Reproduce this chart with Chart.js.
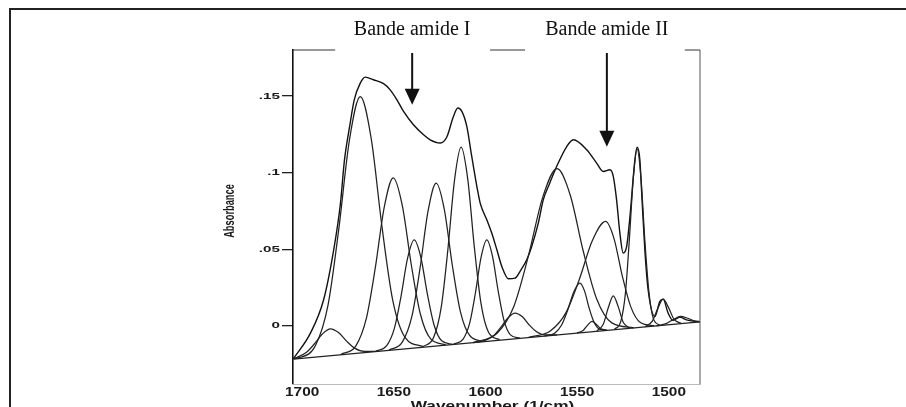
<!DOCTYPE html>
<html>
<head>
<meta charset="utf-8">
<script src="https://cdn.jsdelivr.net/npm/chart.js@4.4.1/dist/chart.umd.min.js"></script>
<style>
  html, body { margin: 0; padding: 0; background: #fff; }
  canvas { display: block; }
</style>
</head>
<body>
<canvas id="spectrum" width="906" height="407"></canvas>
<script>
var xTicks = [1700, 1650, 1600, 1550, 1500];
var xTickLabels = ['1700', '1650', '1600', '1550', '1500'];
var yTicks = [0, 0.05, 0.1, 0.15];
var yTickLabels = ['0', '.05', '.1', '.15'];
var xTitle = 'Wavenumber (1/cm)';
var yTitle = 'Absorbance';
var notes = ['Bande amide I', 'Bande amide II'];
var noteAt = [1640, 1533.8];      // wavenumber under each arrow
var noteTip = [0.1443, 0.1168];   // absorbance at the arrow tip

// [wavenumber, absorbance]
var envelope = [[1704.8,-0.0215],[1695.5,-0.0048],[1688.3,0.0170],[1682.8,0.0496],[1679.2,0.0790],[1676.9,0.1084],[1674.1,0.1301],[1671.6,0.1475],[1668.3,0.1584],[1665.6,0.1623],[1661.1,0.1606],[1655.6,0.1580],[1652.0,0.1540],[1648.3,0.1475],[1644.7,0.1399],[1639.3,0.1312],[1633.8,0.1247],[1630.2,0.1214],[1624.7,0.1193],[1621.1,0.1232],[1617.5,0.1366],[1615.1,0.1421],[1612.9,0.1399],[1610.2,0.1301],[1607.5,0.1105],[1604.7,0.0909],[1602.9,0.0801],[1599.3,0.0692],[1596.6,0.0605],[1593.8,0.0496],[1591.1,0.0387],[1587.5,0.0307],[1583.9,0.0311],[1581.2,0.0354],[1577.5,0.0431],[1574.8,0.0518],[1571.2,0.0670],[1568.5,0.0822],[1565.1,0.0927],[1561.2,0.1040],[1555.7,0.1170],[1552.1,0.1214],[1544.8,0.1149],[1539.4,0.1062],[1535.8,0.1007],[1532.1,0.1018],[1530.3,0.0975],[1528.5,0.0822],[1526.7,0.0605],[1524.9,0.0475],[1523.0,0.0518],[1521.2,0.0713],[1518.5,0.1084],[1517.3,0.1165],[1515.8,0.1084],[1514.9,0.0888],[1513.1,0.0496],[1511.3,0.0235],[1507.6,0.0061],[1504.9,0.0159],[1503.1,0.0174],[1500.4,0.0083],[1497.7,0.0035],[1494.0,0.0057],[1490.4,0.0039],[1484.9,0.0028],[1483,0.0026]];
var baseline = [[1704.8,-0.0217],[1483,0.0025]];

// fitted component bands, named by their centre
var band1685 = [[1704.8,-0.0213],[1703.0,-0.0207],[1697.8,-0.0175],[1693.4,-0.0119],[1689.0,-0.0054],[1684.6,-0.0020],[1680.2,-0.0044],[1675.8,-0.0100],[1671.4,-0.0146],[1666.2,-0.0167],[1658.9,-0.0167]];
var band1668 = [[1704.8,-0.0215],[1702.6,-0.0211],[1692.8,-0.0130],[1685.9,0.0135],[1680.1,0.0624],[1674.2,0.1213],[1668.3,0.1495],[1662.4,0.1226],[1656.5,0.0650],[1650.7,0.0173],[1643.8,-0.0077],[1634.0,-0.0136]];
var band1650 = [[1678.9,-0.0187],[1670.7,-0.0131],[1665.0,0.0048],[1660.1,0.0379],[1655.2,0.0776],[1650.3,0.0966],[1645.4,0.0786],[1640.5,0.0400],[1635.6,0.0080],[1629.9,-0.0086],[1621.7,-0.0124]];
var band1639 = [[1659.9,-0.0166],[1653.9,-0.0130],[1649.7,-0.0017],[1646.1,0.0191],[1642.5,0.0441],[1638.9,0.0561],[1635.3,0.0449],[1631.7,0.0207],[1628.1,0.0007],[1623.9,-0.0098],[1617.9,-0.0121]];
var band1627 = [[1652.6,-0.0158],[1645.3,-0.0105],[1640.1,0.0064],[1635.7,0.0376],[1631.3,0.0751],[1626.9,0.0931],[1622.5,0.0761],[1618.1,0.0395],[1613.7,0.0093],[1608.5,-0.0065],[1601.2,-0.0102]];
var band1613 = [[1634.3,-0.0137],[1628.3,-0.0077],[1624.1,0.0125],[1620.5,0.0500],[1616.9,0.0951],[1613.3,0.1166],[1609.7,0.0959],[1606.1,0.0515],[1602.5,0.0149],[1598.3,-0.0044],[1592.3,-0.0091]];
var band1599 = [[1617.4,-0.0120],[1612.2,-0.0087],[1608.6,0.0019],[1605.5,0.0214],[1602.4,0.0448],[1599.3,0.0561],[1596.2,0.0455],[1593.1,0.0228],[1590.0,0.0039],[1586.4,-0.0059],[1581.2,-0.0081]];
var band1584 = [[1606.8,-0.0110],[1600.3,-0.0095],[1595.7,-0.0065],[1591.8,-0.0012],[1587.8,0.0051],[1583.9,0.0083],[1580.0,0.0060],[1576.1,0.0005],[1572.1,-0.0039],[1567.6,-0.0060],[1561.0,-0.0060]];
var band1561 = [[1606.8,-0.0109],[1593.7,-0.0049],[1584.5,0.0128],[1576.7,0.0451],[1568.8,0.0838],[1561.0,0.1025],[1553.8,0.0854],[1546.6,0.0483],[1539.4,0.0177],[1531.1,0.0019],[1519.1,-0.0013]];
var band1549 = [[1567.8,-0.0067],[1562.3,-0.0048],[1558.4,0.0007],[1555.1,0.0105],[1551.8,0.0222],[1548.5,0.0279],[1546.0,0.0228],[1543.5,0.0117],[1540.9,0.0026],[1538.0,-0.0021],[1533.8,-0.0030]];
var band1542 = [[1550.1,-0.0047],[1546.8,-0.0031],[1544.4,0.0003],[1541.9,0.0028],[1539.5,0.0008],[1537.0,-0.0020],[1533.7,-0.0029]];
var band1535 = [[1576.5,-0.0075],[1564.5,-0.0032],[1556.1,0.0086],[1548.9,0.0300],[1541.7,0.0556],[1534.5,0.0681],[1529.9,0.0569],[1525.4,0.0326],[1520.8,0.0125],[1515.5,0.0021],[1507.9,0.0000]];
var band1530 = [[1539.3,-0.0034],[1535.7,0.0011],[1533.0,0.0119],[1530.3,0.0196],[1527.6,0.0125],[1524.9,0.0023],[1521.3,-0.0015]];
var band1517 = [[1529.7,-0.0024],[1526.2,0.0029],[1523.7,0.0211],[1521.6,0.0551],[1519.4,0.0960],[1517.3,0.1155],[1515.2,0.0965],[1513.1,0.0560],[1510.9,0.0225],[1508.5,0.0048],[1504.9,0.0003]];
var band1503 = [[1512.9,-0.0006],[1509.0,0.0030],[1506.0,0.0114],[1503.1,0.0174],[1500.2,0.0120],[1497.2,0.0043],[1493.3,0.0016]];
var band1494 = [[1506.7,-0.0001],[1501.5,0.0014],[1497.5,0.0041],[1493.6,0.0061],[1489.7,0.0049],[1485.8,0.0031],[1483,0.0027]];

var bands = [band1685, band1668, band1650, band1639, band1627, band1613, band1599, band1584,
             band1561, band1549, band1542, band1535, band1530, band1517, band1503, band1494];

function pts(arr) {
    return arr.map(function(p) { return {x: p[0], y: p[1]}; });
}

var datasets = bands.map(function(b) {
    return {
        data: pts(b),
        borderColor: '#222',
        borderWidth: 1.25,
        pointRadius: 0,
        fill: false,
        cubicInterpolationMode: 'monotone'
    };
});
datasets.push({
    data: pts(baseline),
    borderColor: '#222',
    borderWidth: 1.25,
    pointRadius: 0,
    fill: false,
    tension: 0
});
datasets.push({
    data: pts(envelope),
    borderColor: '#111',
    borderWidth: 1.4,
    pointRadius: 0,
    fill: false,
    cubicInterpolationMode: 'monotone'
});

// squeezed / stretched text, like the scanned plot lettering
function drawText(ctx, text, px, py, sx, align) {
    ctx.save();
    ctx.translate(px, py);
    ctx.scale(sx, 1);
    ctx.textAlign = align;
    ctx.fillText(text, 0, 0);
    ctx.restore();
}

var decor = {
    id: 'decor',
    afterDraw: function(chart) {
        var ctx = chart.ctx, area = chart.chartArea;
        var x = chart.scales.x, y = chart.scales.y;
        ctx.save();

        // page border
        ctx.strokeStyle = '#222';
        ctx.lineWidth = 2;
        ctx.beginPath();
        ctx.moveTo(10, 407); ctx.lineTo(10, 9); ctx.lineTo(906, 9);
        ctx.stroke();

        // right edge and what is left of the top edge of the frame
        ctx.lineWidth = 1;
        ctx.strokeStyle = '#555';
        ctx.beginPath();
        ctx.moveTo(area.right, area.top); ctx.lineTo(area.right, area.bottom);
        ctx.stroke();
        ctx.strokeStyle = '#333';
        [[1705, 1682], [1597.5, 1578.4], [1491.3, 1483]].forEach(function(s) {
            ctx.beginPath();
            ctx.moveTo(x.getPixelForValue(s[0]), area.top);
            ctx.lineTo(x.getPixelForValue(s[1]), area.top);
            ctx.stroke();
        });

        ctx.fillStyle = '#1a1a1a';
        ctx.textBaseline = 'middle';

        // tick labels
        ctx.font = 'bold 12px "Liberation Sans", Arial, sans-serif';
        xTicks.forEach(function(v, i) {
            drawText(ctx, xTickLabels[i], x.getPixelForValue(v), area.bottom + 9, 1.28, 'center');
        });
        ctx.font = 'bold 9.5px "Liberation Sans", Arial, sans-serif';
        yTicks.forEach(function(v, i) {
            drawText(ctx, yTickLabels[i], area.left - 13, y.getPixelForValue(v), 1.6, 'right');
        });

        // axis titles
        ctx.font = 'bold 13px "Liberation Sans", Arial, sans-serif';
        ctx.textBaseline = 'alphabetic';
        drawText(ctx, xTitle, (area.left + area.right) / 2 - 4, 410, 1.33, 'center');

        ctx.save();
        ctx.translate(230, 211);
        ctx.rotate(-Math.PI / 2);
        ctx.scale(0.62, 1);
        ctx.font = 'bold 15px "Liberation Sans", Arial, sans-serif';
        ctx.textAlign = 'center';
        ctx.textBaseline = 'middle';
        ctx.fillText(yTitle, 0, 0);
        ctx.restore();

        // band labels with arrows
        ctx.fillStyle = '#111';
        ctx.font = '20px "Liberation Serif", "Times New Roman", serif';
        ctx.textAlign = 'center';
        ctx.textBaseline = 'middle';
        notes.forEach(function(t, i) {
            var px = x.getPixelForValue(noteAt[i]);
            var tip = y.getPixelForValue(noteTip[i]);
            ctx.fillText(t, px, area.top - 20);
            ctx.strokeStyle = '#111';
            ctx.lineWidth = 2;
            ctx.beginPath();
            ctx.moveTo(px, area.top + 3);
            ctx.lineTo(px, tip - 12);
            ctx.stroke();
            ctx.beginPath();
            ctx.moveTo(px - 7.5, tip - 16);
            ctx.lineTo(px + 7.5, tip - 16);
            ctx.lineTo(px, tip);
            ctx.closePath();
            ctx.fill();
        });

        ctx.restore();
    }
};

new Chart(document.getElementById('spectrum'), {
    type: 'line',
    data: { datasets: datasets },
    options: {
        responsive: false,
        animation: false,
        layout: { padding: { top: 50, right: 206, bottom: 0, left: 0 } },
        plugins: {
            legend: { display: false },
            tooltip: { enabled: false }
        },
        scales: {
            x: {
                type: 'linear',
                reverse: true,
                min: 1483,
                max: 1705,
                afterBuildTicks: function(s) { s.ticks = xTicks.map(function(v) { return {value: v}; }); },
                afterFit: function(s) { s.height = 23; },
                ticks: { display: false },
                grid: { display: false },
                border: { display: true, color: '#bbb', width: 1 }
            },
            y: {
                type: 'linear',
                min: -0.038,
                max: 0.18,
                afterBuildTicks: function(s) { s.ticks = yTicks.map(function(v) { return {value: v}; }); },
                afterFit: function(s) { s.width = 293; },
                ticks: { display: false },
                grid: { drawOnChartArea: false, drawTicks: true, tickLength: 11, color: '#222', lineWidth: 1.3 },
                border: { display: true, color: '#111', width: 1.6 }
            }
        }
    },
    plugins: [decor]
});
</script>
</body>
</html>
